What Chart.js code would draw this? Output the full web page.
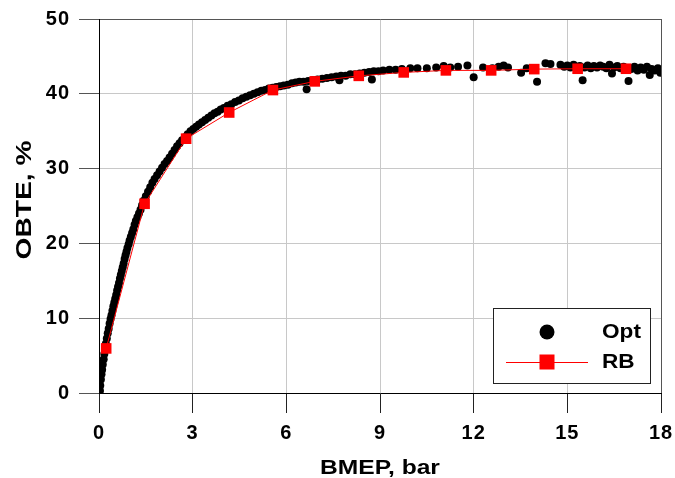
<!DOCTYPE html>
<html>
<head>
<meta charset="utf-8">
<script src="https://cdn.jsdelivr.net/npm/chart.js@4/dist/chart.umd.min.js"></script>
<style>
    html, body { margin: 0; padding: 0; background: #fff; }
    #wrap { width: 675px; height: 478px; }
</style>
</head>
<body>
<div id="wrap"><canvas id="obte-chart"></canvas></div>
<script>
/**
 *  Chart data
 */
var optX = [0.03, 0.04, 0.06, 0.08, 0.1, 0.12, 0.15, 0.17, 0.2, 0.22, 0.25, 0.28, 0.31, 0.34, 0.37, 0.4, 0.43, 0.46, 0.49, 0.52,
    0.55, 0.58, 0.61, 0.64, 0.67, 0.7, 0.73, 0.76, 0.79, 0.82, 0.85, 0.88, 0.91, 0.95, 0.98, 1.02, 1.06, 1.1, 1.14, 1.18,
    1.23, 1.28, 1.33, 1.38, 1.43, 1.5, 1.57, 1.64, 1.71, 1.78, 1.86, 1.94, 2.02, 2.1, 2.18, 2.26, 2.34, 2.42, 2.5, 2.58,
    2.66, 2.75, 2.84, 2.93, 3.02, 3.11, 3.2, 3.3, 3.4, 3.5, 3.6, 3.7, 3.8, 3.9, 4.0, 4.12, 4.24, 4.36, 4.48, 4.6,
    4.72, 4.84, 4.96, 5.08, 5.2, 5.32, 5.44, 5.56, 5.68, 5.8, 5.92, 6.05, 6.18, 6.3, 6.42, 6.55, 6.65, 6.7, 6.85, 7.0,
    7.15, 7.3, 7.45, 7.6, 7.7, 7.75, 7.9, 8.05, 8.2, 8.35, 8.5, 8.65, 8.74, 8.8, 8.95, 9.1, 9.3, 9.5, 9.7, 9.97,
    10.2, 10.5, 10.8, 11.04, 11.25, 11.5, 11.8, 12.0, 12.3, 12.6, 12.8, 12.96, 13.1, 13.52, 13.7, 14.03, 14.3, 14.46, 14.78, 14.9,
    15.0, 15.1, 15.2, 15.3, 15.4, 15.49, 15.55, 15.65, 15.75, 15.85, 15.95, 16.05, 16.15, 16.25, 16.35, 16.43, 16.5, 16.6, 16.7, 16.8,
    16.96, 17.05, 17.15, 17.25, 17.35, 17.45, 17.55, 17.64, 17.7, 17.8, 17.9, 17.98];
var optY = [0.3, 1.0, 1.8, 2.5, 3.1, 3.8, 4.5, 5.2, 5.9, 6.6, 7.3, 8.0, 8.6, 9.3, 9.9, 10.4, 11.0, 11.6, 12.1, 12.6,
    13.1, 13.7, 14.2, 14.7, 15.3, 15.8, 16.3, 16.8, 17.3, 17.9, 18.4, 18.9, 19.4, 19.9, 20.4, 20.9, 21.4, 21.9, 22.5, 23.0,
    23.5, 24.0, 24.5, 25.1, 25.7, 26.3, 26.9, 27.5, 28.1, 28.6, 29.1, 29.6, 30.1, 30.6, 31.0, 31.5, 32.0, 32.5, 33.0, 33.4,
    33.8, 34.2, 34.6, 35.0, 35.3, 35.6, 35.9, 36.2, 36.5, 36.8, 37.1, 37.4, 37.6, 37.9, 38.1, 38.4, 38.6, 38.9, 39.1, 39.4,
    39.6, 39.8, 40.0, 40.2, 40.4, 40.5, 40.7, 40.8, 40.9, 41.0, 41.1, 41.2, 41.4, 41.5, 41.6, 41.6, 40.6, 41.7, 41.8, 41.9,
    42.0, 42.1, 42.2, 42.3, 41.8, 42.4, 42.4, 42.6, 42.6, 42.7, 42.8, 42.9, 41.9, 43.0, 43.0, 43.1, 43.2, 43.2, 43.3, 43.4,
    43.4, 43.4, 43.5, 43.7, 43.5, 43.6, 43.8, 42.2, 43.5, 43.4, 43.6, 43.8, 43.5, 42.8, 43.4, 41.6, 44.1, 44.0, 43.9, 43.6,
    43.8, 43.5, 43.9, 43.6, 43.7, 41.8, 43.5, 43.8, 43.4, 43.7, 43.5, 43.8, 43.6, 43.4, 43.9, 42.7, 43.5, 43.7, 43.4, 43.6,
    41.7, 43.3, 43.6, 43.1, 43.5, 43.2, 43.6, 42.5, 43.3, 43.1, 43.4, 42.8];

var rbX = [0.23, 1.46, 2.79, 4.17, 5.57, 6.91, 8.32, 9.76, 11.11, 12.56, 13.94, 15.33, 16.88];
var rbY = [5.96, 25.3, 34.0, 37.5, 40.5, 41.66, 42.4, 42.86, 43.13, 43.13, 43.3, 43.35, 43.35];

var xTicks = [0, 3, 6, 9, 12, 15, 18];
var yTicks = [0, 10, 20, 30, 40, 50];

var xTitle = 'BMEP, bar';
var yTitle = 'OBTE, %';

function toPoints(xs, ys)
{
    return xs.map(function (x, i) { return {x: x, y: ys[i]}; });
}

var FONT = "'Liberation Sans', Arial, sans-serif";

/**
 *  The original uses a slightly wider bold face: open up the tick labels a bit
 */
var wideText = {
    id: 'wideText',
    beforeDraw: function (chart) {
        chart.ctx.letterSpacing = '1px';
    }
};

/**
 *  Draw text horizontally stretched, centred or left aligned
 */
function stretchedText(ctx, text, x, y, sx, centred)
{
    ctx.save();
    ctx.letterSpacing = '0px';
    var w = ctx.measureText(text).width * sx;
    ctx.translate(centred ? x - w / 2 : x, y);
    ctx.scale(sx, 1);
    ctx.fillText(text, 0, 0);
    ctx.restore();
}

/**
 *  Axis titles
 */
var axisTitles = {
    id: 'axisTitles',
    afterDraw: function (chart) {
        var ctx = chart.ctx;
        var area = chart.chartArea;
        ctx.save();
        ctx.fillStyle = '#000';
        ctx.textBaseline = 'alphabetic';
        ctx.textAlign = 'left';

        ctx.font = 'bold 20.5px ' + FONT;
        stretchedText(ctx, xTitle, (area.left + area.right) / 2, 474, 1.2, true);

        ctx.font = 'bold 22px ' + FONT;
        ctx.translate(31, 200);
        ctx.rotate(-Math.PI / 2);
        stretchedText(ctx, yTitle, 0, 0, 1.28, true);
        ctx.restore();
    }
};

/**
 *  Legend box drawn inside the plot area
 */
var boxLegend = {
    id: 'boxLegend',
    afterDraw: function (chart) {
        var ctx = chart.ctx;
        ctx.save();
        ctx.fillStyle = '#fff';
        ctx.strokeStyle = '#222';
        ctx.lineWidth = 1;
        ctx.fillRect(493.5, 308.5, 157, 75);
        ctx.strokeRect(493.5, 308.5, 157, 75);

        // Opt symbol
        ctx.fillStyle = '#000';
        ctx.beginPath();
        ctx.arc(547, 332, 7.5, 0, Math.PI * 2);
        ctx.fill();

        // RB symbol
        ctx.strokeStyle = '#ff0000';
        ctx.beginPath();
        ctx.moveTo(506, 362.5);
        ctx.lineTo(588, 362.5);
        ctx.stroke();
        ctx.fillStyle = '#ff0000';
        ctx.fillRect(539.5, 354.5, 15, 15);

        ctx.fillStyle = '#000';
        ctx.font = 'bold 20px ' + FONT;
        ctx.textAlign = 'left';
        ctx.textBaseline = 'middle';
        stretchedText(ctx, 'Opt', 602, 332, 1.13, false);
        stretchedText(ctx, 'RB', 602, 362, 1.13, false);
        ctx.restore();
    }
};

var ctx = document.getElementById('obte-chart').getContext('2d');
var myChart = new Chart(ctx, {
    type: 'scatter',
    data: {
        datasets: [
        {
            label: 'RB',
            data: toPoints(rbX, rbY),
            showLine: true,
            borderColor: '#ff0000',
            borderWidth: 1,
            backgroundColor: '#ff0000',
            pointStyle: 'rect',
            pointRadius: 7.5,
            pointBorderWidth: 0,
            order: 0
        },
        {
            label: 'Opt',
            data: toPoints(optX, optY),
            showLine: false,
            backgroundColor: '#000',
            borderColor: '#000',
            pointRadius: 4,
            pointBorderWidth: 0,
            order: 1
        }
        ]
    },
    options: {
        responsive: true,
        maintainAspectRatio: false,
        animation: false,
        layout: {
            padding: { top: 19, right: 14, left: 0, bottom: 0 }
        },
        plugins: {
            legend: { display: false },
            tooltip: { enabled: false }
        },
        scales: {
            x: {
                type: 'linear',
                min: 0,
                max: 18,
                afterFit: function (scale) {
                    scale.height = 85;
                    scale.paddingLeft = 0;
                    scale.paddingRight = 0;
                },
                afterBuildTicks: function (scale) {
                    scale.ticks = xTicks.map(function (v) { return {value: v}; });
                },
                grid: {
                    color: function (c) { return c.tick && c.tick.value === 18 ? '#555' : '#c8c8c8'; },
                    tickColor: '#222',
                    tickLength: 20,
                    lineWidth: 1
                },
                border: { color: '#000', width: 1 },
                ticks: {
                    color: '#000',
                    padding: 8,
                    maxRotation: 0,
                    font: { family: FONT, size: 20, weight: 'bold' }
                },
                title: { display: false }
            },
            y: {
                type: 'linear',
                min: 0,
                max: 50,
                afterFit: function (scale) {
                    scale.width = 99;
                    scale.paddingTop = 0;
                    scale.paddingBottom = 0;
                },
                afterBuildTicks: function (scale) {
                    scale.ticks = yTicks.map(function (v) { return {value: v}; });
                },
                grid: {
                    color: function (c) { return c.tick && c.tick.value === 50 ? '#555' : '#c8c8c8'; },
                    tickColor: '#555',
                    tickLength: 20,
                    lineWidth: 1
                },
                border: { color: '#000', width: 1 },
                ticks: {
                    color: '#000',
                    padding: 9,
                    font: { family: FONT, size: 20, weight: 'bold' }
                },
                title: { display: false }
            }
        }
    },
    plugins: [wideText, axisTitles, boxLegend]
});
</script>
</body>
</html>
